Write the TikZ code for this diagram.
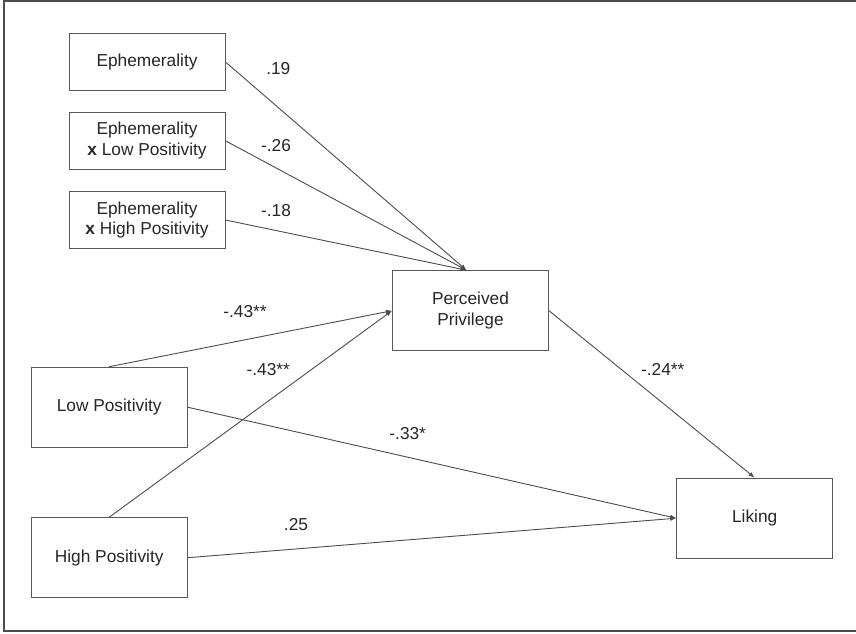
\documentclass[tikz,border=0pt]{standalone}
\usepackage{fontspec}
\setmainfont{Liberation Sans}
\usetikzlibrary{arrows.meta}
\begin{document}
\begin{tikzpicture}[x=1pt,y=-1pt,
  box/.style={draw=black!65,line width=1pt,inner sep=0pt,align=center,
    font=\fontsize{17.3}{20.7}\selectfont,text=black!85},
  smallbox/.style={box,minimum width=156pt,minimum height=57pt},
  bigbox/.style={box,minimum width=156pt,minimum height=80pt},
  path/.style={draw=black!70,line width=0.9pt,-{Latex[length=6pt,width=4.5pt]}},
  coef/.style={font=\fontsize{17.3}{20}\selectfont,text=black!85,inner sep=0pt}]
\useasboundingbox (0,0) rectangle (856,633);
\draw[black!70,line width=1.6pt] (860,1) -- (4,1) -- (4,631) -- (860,631);

\node[smallbox] (eph) at (147,62) {Ephemerality};
\node[smallbox] (ephlow) at (147,140.8) {Ephemerality\\\textbf{x} Low Positivity};
\node[smallbox] (ephhigh) at (147,220) {Ephemerality\\\textbf{x} High Positivity};
\node[bigbox] (pp) at (470.5,310.7) {Perceived\\Privilege};
\node[bigbox] (liking) at (754.7,518.2) {Liking};
\node[bigbox] (lowpos) at (109.2,407.2) {Low Positivity};
\node[bigbox] (highpos) at (109.2,557.7) {High Positivity};

\coordinate (ppin) at ([xshift=-4pt]pp.north);

\draw[path] (eph.east) -- (ppin);
\draw[path] (ephlow.east) -- (ppin);
\draw[path] (ephhigh.east) -- (ppin);
\draw[path] (lowpos.north) -- (pp.west);
\draw[path] (highpos.north) -- (pp.west);
\draw[path] (lowpos.east) -- (liking.west);
\draw[path] (highpos.east) -- (liking.west);
\draw[path] (pp.east) -- (liking.north);

\node[coef] (c1) at (278.3,69) {.19};
\node[coef] (c2) at (276,145.7) {-.26};
\node[coef] (c3) at (276,211) {-.18};
\node[coef] (c4) at (245,312) {-.43**};
\node[coef] (c5) at (268.3,370) {-.43**};
\node[coef] (c6) at (407.7,434) {-.33*};
\node[coef] (c7) at (296,525) {.25};
\node[coef] (c8) at (662.7,369) {-.24**};
\end{tikzpicture}
\end{document}
